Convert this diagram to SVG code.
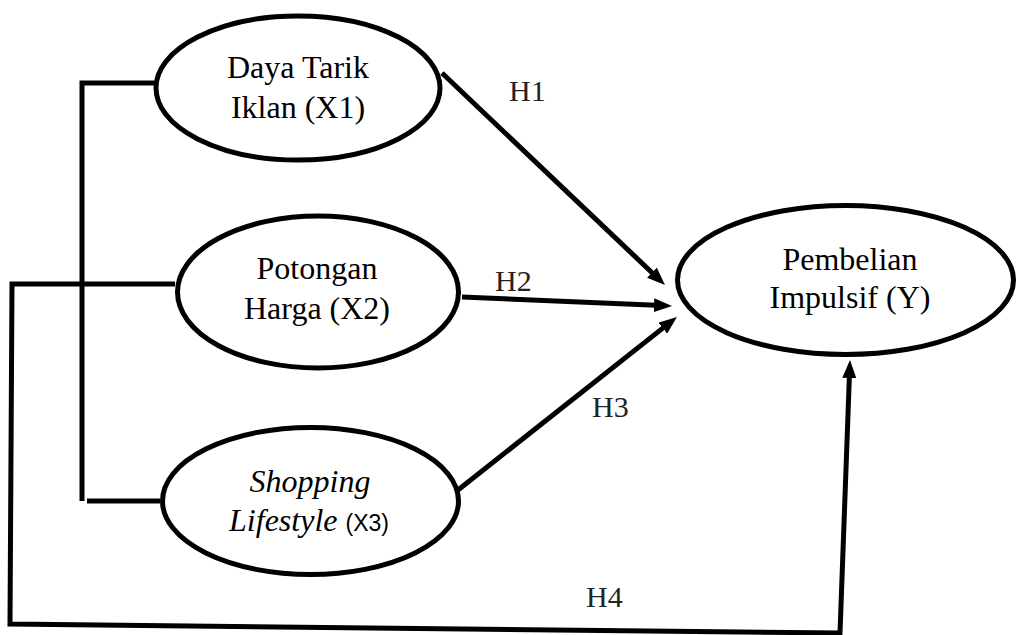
<svg xmlns="http://www.w3.org/2000/svg" width="1018" height="635" viewBox="0 0 1018 635">
<defs>
<style>
.node ellipse{fill:#fff;stroke:#000;stroke-width:5}
.lbl{font-family:"Liberation Serif","Times New Roman",serif;font-size:32px;fill:#000;text-anchor:middle}
.h{font-family:"Liberation Serif","Times New Roman",serif;font-size:30px;fill:#222}
.it{font-style:italic}
.sans{font-family:"Liberation Sans",Arial,sans-serif;font-size:23px;font-style:normal}
.conn{fill:none;stroke:#000;stroke-width:5;stroke-linejoin:miter}
.arr{marker-end:url(#ah)}
</style>
<marker id="ah" markerUnits="userSpaceOnUse" markerWidth="18" markerHeight="14" refX="2" refY="7" orient="auto">
<path d="M0,0 L18,7 L0,14 z" fill="#000"/>
</marker>
</defs>
<rect width="1018" height="635" fill="#fff"/>
<g id="connectors">
<path class="conn" d="M154,83 L82,83 L82,501"/>
<path class="conn" d="M87,501 L160,501"/>
<path class="conn" d="M175,284 L12,284 L10,624 L840,633 L849.4,376" style="marker-end:url(#ah)"/>
<path class="conn arr" d="M442,73 L653.4,274"/>
<path class="conn arr" d="M462,297 L656,305.3"/>
<path class="conn arr" d="M458,490 L664.4,326.9"/>
</g>
<g id="x1" class="node">
<ellipse cx="298" cy="88" rx="142" ry="72"/>
<text class="lbl" x="298" y="78">Daya Tarik</text>
<text class="lbl" x="298" y="118">Iklan (X1)</text>
</g>
<g id="x2" class="node">
<ellipse cx="318" cy="292" rx="140.5" ry="76"/>
<text class="lbl" x="317" y="279">Potongan</text>
<text class="lbl" x="317" y="319">Harga (X2)</text>
</g>
<g id="x3" class="node">
<ellipse cx="310.5" cy="501" rx="148" ry="73.5"/>
<text class="lbl it" x="310" y="492">Shopping</text>
<text class="lbl" x="309" y="531"><tspan class="it">Lifestyle </tspan><tspan class="sans">(X3)</tspan></text>
</g>
<g id="y" class="node">
<ellipse cx="845.5" cy="280" rx="168" ry="74.5"/>
<text class="lbl" x="850" y="270">Pembelian</text>
<text class="lbl" x="850" y="308">Impulsif (Y)</text>
</g>
<g id="labels">
<text class="h" x="509" y="101">H1</text>
<text class="h" x="495" y="291">H2</text>
<text class="h" x="592" y="417">H3</text>
<text class="h" x="586" y="607">H4</text>
</g>
</svg>
